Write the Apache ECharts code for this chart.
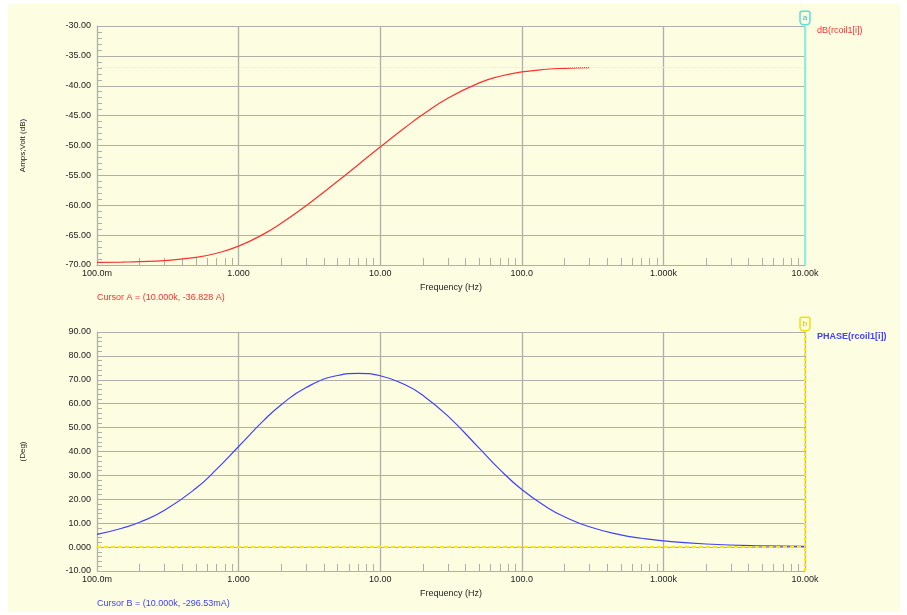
<!DOCTYPE html>
<html>
<head>
<meta charset="utf-8">
<script src="https://cdn.jsdelivr.net/npm/echarts@6/dist/echarts.min.js"></script>
<style>
  html, body { margin: 0; padding: 0; background: #fff; }
  #main { position: absolute; left: 8px; top: 4px; width: 892px; height: 608px; }
</style>
</head>
<body>
<div id="main"></div>
<script>
// magnitude trace (dB)
const dbFreqs = [0.1, 0.15, 0.2, 0.3, 0.5, 0.7, 1, 1.5, 2, 3, 5, 7, 10, 15, 20, 30, 50, 70, 100, 150, 200, 300];
const dbValues = [-69.56, -69.51, -69.45, -69.27, -68.73, -68.03, -66.84, -64.83, -63.02, -60.07, -55.99, -53.21,
  -50.26, -47.0, -44.82, -42.1, -39.52, -38.41, -37.69, -37.24, -37.08, -36.95];

// phase trace (deg)
const phaseFreqs = [0.1, 0.15, 0.2, 0.3, 0.5, 0.7, 1, 1.5, 2, 3, 5, 7, 10, 15, 20, 30, 50, 70, 100, 150, 200, 300,
  500, 700, 1000, 2000, 5000, 10000];
const phaseValues = [5.3, 7.9, 10.4, 15.4, 24.6, 32.6, 42.1, 52.9, 59.6, 66.8, 71.8, 72.7, 71.7, 67.9, 63.5, 54.9,
  41.4, 32.4, 24.1, 16.7, 12.7, 8.5, 5.1, 3.7, 2.6, 1.3, 0.5, 0.3];

// x axis decade labels
const xTickValues = [0.1, 1, 10, 100, 1000, 10000];
const xTickLabels = ['100.0m', '1.000', '10.00', '100.0', '1.000k', '10.00k'];

const cursorA = -36.828;
const cursorX = 10000;

// minor ticks 2..9 in every decade
const minorX = [];
for (let d = -1; d < 4; d++) {
  for (let k = 2; k <= 9; k++) minorX.push(k * Math.pow(10, d));
}

const FONT = 'Liberation Sans, Arial, sans-serif';
const GRIDC = '#b0b0a8';
const TXT = '#222';
const BG = '#fdfde1';

function xFmt(v) {
  const i = xTickValues.findIndex(t => Math.abs(Math.log10(t) - Math.log10(v)) < 1e-6);
  return i >= 0 ? xTickLabels[i] : '';
}
function yFmt(v) {
  return v === 0 ? '0.000' : v.toFixed(2);
}

function mainX(gi) {
  return {
    type: 'log', gridIndex: gi, logBase: 10, min: 0.1, max: 10000,
    axisLine: { lineStyle: { color: GRIDC } },
    axisTick: { show: false },
    axisLabel: { formatter: xFmt, fontSize: 9, color: TXT, fontFamily: FONT, margin: 4 },
    splitLine: { show: true, lineStyle: { color: GRIDC, width: 1.3 } },
    name: 'Frequency (Hz)', nameLocation: 'middle', nameGap: 18,
    nameTextStyle: { fontSize: 9, color: TXT, fontFamily: FONT }
  };
}
function minorXAxis(gi) {
  return {
    type: 'log', gridIndex: gi, logBase: 10, min: 0.1, max: 10000, position: 'bottom',
    axisLine: { show: false },
    axisLabel: { show: false },
    splitLine: { show: false },
    axisTick: { show: true, inside: true, length: 7, customValues: minorX, lineStyle: { color: GRIDC } }
  };
}
function yAxis(gi, min, max, interval, name) {
  return {
    type: 'value', gridIndex: gi, min: min, max: max, interval: interval,
    axisLine: { show: true, lineStyle: { color: GRIDC } },
    axisTick: { show: true, inside: true, length: 8, lineStyle: { color: GRIDC } },
    minorTick: { show: true, splitNumber: 5, length: 5, lineStyle: { color: GRIDC } },
    axisLabel: { formatter: yFmt, fontSize: 9, color: TXT, fontFamily: FONT, margin: 6 },
    splitLine: { show: true, lineStyle: { color: GRIDC } },
    name: name, nameLocation: 'middle', nameGap: 70, nameRotate: 90,
    nameTextStyle: { fontSize: 8, color: TXT, fontFamily: FONT }
  };
}

function cursorLabel(letter, color, border) {
  return {
    show: true, position: 'end', formatter: letter, distance: 2,
    color: color, fontSize: 8, fontFamily: FONT, lineHeight: 10,
    borderColor: border, borderWidth: 1.5, borderRadius: [1, 1, 3, 3], padding: [1, 2, 1, 2],
    backgroundColor: BG
  };
}

const chart = echarts.init(document.getElementById('main'), null, { renderer: 'canvas' });

const option = {
  backgroundColor: BG,
  animation: false,
  grid: [
    { left: 89, top: 22, width: 708, height: 239 },
    { left: 89, top: 328, width: 708, height: 239 }
  ],
  xAxis: [mainX(0), minorXAxis(0), mainX(1), minorXAxis(1)],
  yAxis: [
    yAxis(0, -70, -30, 5, 'Amps;Volt (dB)'),
    yAxis(1, -10, 90, 10, '(Deg)')
  ],
  graphic: [
    { type: 'text', left: 89, top: 289, style: { text: 'Cursor A = (10.000k, -36.828 A)', fill: '#ff3030', font: '9px ' + FONT } },
    { type: 'text', left: 89, top: 595, style: { text: 'Cursor B = (10.000k, -296.53mA)', fill: '#4040ff', font: '9px ' + FONT } },
    { type: 'text', left: 809, top: 22, style: { text: 'dB(rcoil1[i])', fill: '#ff3030', font: '9px ' + FONT } },
    { type: 'text', left: 809, top: 328, style: { text: 'PHASE(rcoil1[i])', fill: '#4040ff', font: 'bold 9px ' + FONT } }
  ],
  series: [
    {
      type: 'line', xAxisIndex: 0, yAxisIndex: 0,
      data: dbFreqs.map((f, i) => [f, dbValues[i]]),
      smooth: true, showSymbol: false,
      lineStyle: { color: '#ff3030', width: 1.2 },
      markLine: {
        silent: true, symbol: ['none', 'none'],
        data: [
          {
            yAxis: cursorA,
            lineStyle: { color: '#e0f0d4', type: 'dotted', width: 1 },
            label: { show: false }
          },
          {
            xAxis: cursorX,
            lineStyle: { color: '#88f0e6', type: 'solid', width: 2 },
            label: cursorLabel('a', '#30c0b8', '#50e4da')
          }
        ]
      }
    },
    {
      type: 'line', xAxisIndex: 2, yAxisIndex: 1,
      data: phaseFreqs.map((f, i) => [f, phaseValues[i]]),
      smooth: true, showSymbol: false,
      lineStyle: { color: '#4040ff', width: 1.2 },
      markLine: {
        silent: true, symbol: ['none', 'none'],
        data: [
          {
            yAxis: 0,
            lineStyle: { color: '#ffe800', type: [4, 3], width: 2 },
            label: { show: false }
          },
          {
            xAxis: cursorX,
            lineStyle: { color: '#ffe800', type: [3, 2], width: 2 },
            label: cursorLabel('b', '#d0c000', '#f4e000')
          }
        ]
      }
    }
  ]
};

chart.setOption(option);
</script>
</body>
</html>
